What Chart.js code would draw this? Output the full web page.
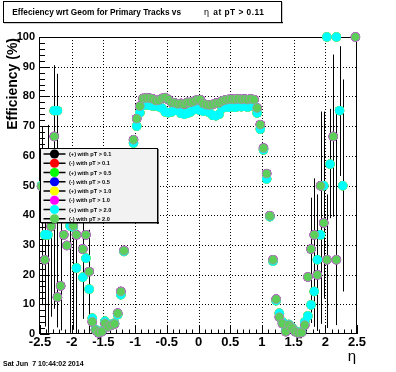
<!DOCTYPE html>
<html><head><meta charset="utf-8">
<script src="https://cdn.jsdelivr.net/npm/chart.js@4.4.1/dist/chart.umd.min.js"></script>
<style>html,body{margin:0;padding:0;background:#fff;}#wrap{position:relative;width:396px;height:372px;}</style>
</head><body><div id="wrap"><canvas id="c" width="396" height="372"></canvas></div>
<script>
const N = null;
// eta bin centres
const eta = [
-2.475,-2.425,-2.375,-2.325,-2.275,-2.225,-2.175,-2.125,-2.075,-2.025,
-1.975,-1.925,-1.875,-1.825,-1.775,-1.725,-1.675,-1.625,-1.575,-1.525,
-1.475,-1.425,-1.375,-1.325,-1.275,-1.225,-1.175,-1.125,-1.075,-1.025,
-0.975,-0.925,-0.875,-0.825,-0.775,-0.725,-0.675,-0.625,-0.575,-0.525,
-0.475,-0.425,-0.375,-0.325,-0.275,-0.225,-0.175,-0.125,-0.075,-0.025,
0.025,0.075,0.125,0.175,0.225,0.275,0.325,0.375,0.425,0.475,
0.525,0.575,0.625,0.675,0.725,0.775,0.825,0.875,0.925,0.975,
1.025,1.075,1.125,1.175,1.225,1.275,1.325,1.375,1.425,1.475,
1.525,1.575,1.625,1.675,1.725,1.775,1.825,1.875,1.925,1.975,
2.025,2.075,2.125,2.175,2.225,2.275,2.325,2.375,2.425,2.475];

// efficiency (%) for positive tracks
const effPlus = [
50,33.4,33.4,45,75.2,75.2,55,42,58,36.4,
36.0,22.2,50,19.1,25.5,15.1,5.3,1.5,0.6,1.0,
4.3,2.7,3.2,3.6,6.5,13.2,27.8,44,56,64.3,
70.0,74.5,77.0,77.2,77.0,76.8,76.8,76.5,76.0,74.8,
74.5,74.8,75.5,75.2,74.3,74.0,74.3,74.8,75.5,75.8,
75.3,75.0,75.2,74.5,73.6,73.5,74.0,76.0,76.5,76.3,
76.5,76.3,76.6,76.5,76.7,76.4,76.8,77.0,74.4,69.0,
62.0,52.2,39.5,24.5,11.2,7.0,4.0,1.2,3.2,2.2,
1.0,0.5,0.8,4.0,6.1,9.8,14.3,25.0,33.4,49.9,
100,57.2,N,100,75.2,49.9,N,N,N,N];

// efficiency (%) for negative tracks
const effMinus = [
49.7,25.0,52,36.2,66.5,12.4,16.2,33.4,29.8,48,
36.4,33.4,44,28.6,33.4,21.0,4.1,1.3,0.4,0.8,
3.6,2.5,3.0,3.4,7.0,14.3,28.1,45,58,65.4,
72.5,76.7,79.3,79.5,79.4,79.2,78.6,78.7,79.3,79.6,
78.9,78.0,77.8,77.5,77.6,77.4,78.0,78.0,78.3,78.8,
78.9,77.6,77.2,77.1,77.3,77.7,77.8,78.5,78.8,79.0,
79.1,79.0,79.2,79.0,79.1,78.9,79.2,78.9,76.1,70.5,
62.6,54.0,39.8,25.0,11.7,5.7,3.5,0.8,3.0,2.0,
0.8,0.3,0.5,3.0,19.2,28.6,33.4,19.9,49.9,37.4,
25.0,N,66.5,25.0,N,N,N,N,N,100];

// asymmetric errors (lower / upper)
const errLoPlus = [
N,N,33,N,N,73,N,N,N,36,
N,22,N,14,N,15,N,N,N,N,
N,N,N,N,N,N,N,N,N,N, N,N,N,N,N,N,N,N,N,N,
N,N,N,N,N,N,N,N,N,N, N,N,N,N,N,N,N,N,N,N,
N,N,N,N,N,N,N,N,N,N, N,N,N,N,N,N,N,N,N,N,
N,N,N,N,N,N,N,24,30,38,
N,18.2,N,N,22,35.6,N,N,N,N];
const errHiPlus = [
N,N,37,N,N,12.4,N,N,N,25,
N,30,N,30,N,20,N,N,N,N,
N,N,N,N,N,N,N,N,N,N, N,N,N,N,N,N,N,N,N,N,
N,N,N,N,N,N,N,N,N,N, N,N,N,N,N,N,N,N,N,N,
N,N,N,N,N,N,N,N,N,N, N,N,N,N,N,N,N,N,N,N,
N,N,N,N,N,N,N,22,25,25,
N,18.6,N,N,21.7,35.8,N,N,N,N];
const errLoMinus = [
40,22.5,N,30.4,58,N,15,N,N,N,
35,31,N,21,N,N,N,N,N,N,
N,N,N,N,N,N,N,N,N,N, N,N,N,N,N,N,N,N,N,N,
N,N,N,N,N,N,N,N,N,N, N,N,N,N,N,N,N,N,N,N,
N,N,N,N,N,N,N,N,N,N, N,N,N,N,N,N,N,N,N,N,
N,N,N,N,N,24.9,31,N,44,N,
23,N,27,22,N,N,N,N,N,N];
const errHiMinus = [
20,25,N,25,24,N,35,N,N,N,
25,25,N,30,N,N,N,N,N,N,
N,N,N,N,N,N,N,N,N,N, N,N,N,N,N,N,N,N,N,N,
N,N,N,N,N,N,N,N,N,N, N,N,N,N,N,N,N,N,N,N,
N,N,N,N,N,N,N,N,N,N, N,N,N,N,N,N,N,N,N,N,
N,N,N,N,N,17.3,19,N,25,N,
22,N,27.6,50,N,N,N,N,N,N];

const seriesLabels = ['(+) with pT > 0.1','(-) with pT > 0.1','(+) with pT > 0.5','(-) with pT > 0.5',
                      '(+) with pT > 1.0','(-) with pT > 1.0','(+) with pT > 2.0','(-) with pT > 2.0'];
const seriesColors = ['#000000','#ff0000','#00ff00','#0000ff','#ffff00','#ff00ff','#00ffff','#5ccf58'];
const seriesValues = [effPlus,effMinus,effPlus,effMinus,effPlus,effMinus,effPlus,effMinus];
const seriesErrLo = [N,N,N,N,N,N,errLoPlus,errLoMinus];
const seriesErrHi = [N,N,N,N,N,N,errHiPlus,errHiMinus];

const xTicks = [-2.5,-2,-1.5,-1,-0.5,0,0.5,1,1.5,2,2.5];
const xTickLabels = ['-2.5','-2','-1.5','-1','-0.5','0','0.5','1','1.5','2','2.5'];
const yTicks = [0,10,20,30,40,50,60,70,80,90,100];
const yTickLabels = ['0','10','20','30','40','50','60','70','80','90','100'];

const titleMain = 'Effeciency wrt Geom for Primary Tracks vs';
const titleEta = '\u03b7';
const titleTail = 'at pT > 0.11';
const yTitle = 'Efficiency (%)';
const xTitle = '\u03b7';
const dateText = 'Sat Jun  7 10:44:02 2014';

const FONT = 'Liberation Sans, Arial, sans-serif';

const framePlugin = {
  id: 'frame',
  beforeDatasetsDraw(chart) {
    const {ctx, chartArea: a, scales: {x, y}} = chart;
    ctx.save();
    ctx.strokeStyle = '#000'; ctx.lineWidth = 1; ctx.setLineDash([1, 2]);
    xTicks.forEach(v => {
      if (v <= x.min || v >= x.max) return;
      const px = Math.round(x.getPixelForValue(v)) + 0.5;
      ctx.beginPath(); ctx.moveTo(px, a.top); ctx.lineTo(px, a.bottom); ctx.stroke();
    });
    yTicks.forEach(v => {
      if (v <= y.min || v >= y.max) return;
      const py = Math.round(y.getPixelForValue(v)) + 0.5;
      ctx.beginPath(); ctx.moveTo(a.left, py); ctx.lineTo(a.right, py); ctx.stroke();
    });
    ctx.setLineDash([]);
    ctx.strokeRect(Math.round(a.left) - 0.5, Math.round(a.top) + 0.5, Math.round(a.right - a.left), Math.round(a.bottom - a.top) - 1);
    ctx.beginPath();
    for (let k = 0; k < xTicks.length; k++) {
      const v = xTicks[k];
      const px = Math.round(x.getPixelForValue(v)) + 0.5;
      ctx.moveTo(px, a.bottom); ctx.lineTo(px, a.bottom - 9);
      if (k < xTicks.length - 1) {
        const step = (xTicks[k + 1] - v) / 5;
        for (let j = 1; j < 5; j++) {
          const qx = Math.round(x.getPixelForValue(v + j * step)) + 0.5;
          ctx.moveTo(qx, a.bottom); ctx.lineTo(qx, a.bottom - 4.5);
        }
      }
    }
    for (let k = 0; k < yTicks.length; k++) {
      const v = yTicks[k];
      const py = Math.round(y.getPixelForValue(v)) + 0.5;
      ctx.moveTo(a.left, py); ctx.lineTo(a.left + 9.5, py);
      if (k < yTicks.length - 1) {
        const step = (yTicks[k + 1] - v) / 5;
        for (let j = 1; j < 5; j++) {
          const qy = Math.round(y.getPixelForValue(v + j * step)) + 0.5;
          ctx.moveTo(a.left, qy); ctx.lineTo(a.left + 5, qy);
        }
      }
    }
    ctx.stroke();
    ctx.restore();
  }
};

const errorBarPlugin = {
  id: 'errorBars',
  beforeDatasetsDraw(chart) {
    const {ctx, chartArea: a, scales: {x, y}} = chart;
    ctx.save();
    ctx.beginPath(); ctx.rect(a.left, a.top, a.right - a.left, a.bottom - a.top); ctx.clip();
    ctx.strokeStyle = '#000'; ctx.lineWidth = 1;
    seriesValues.forEach((vals, k) => {
      const lo = seriesErrLo[k], hi = seriesErrHi[k];
      if (!lo || !hi) return;
      vals.forEach((v, i) => {
        if (v === null || (lo[i] === null && hi[i] === null)) return;
        const px = Math.round(x.getPixelForValue(eta[i])) + 0.5;
        ctx.beginPath();
        ctx.moveTo(px, y.getPixelForValue(v - (lo[i] || 0)));
        ctx.lineTo(px, y.getPixelForValue(v + (hi[i] || 0)));
        ctx.stroke();
      });
    });
    ctx.restore();
  }
};

const legendPlugin = {
  id: 'rootLegend',
  afterDatasetsDraw(chart) {
    const ctx = chart.ctx;
    const L = 40, T = 148, W = 118, H = 75;
    ctx.save();
    ctx.fillStyle = '#f2f2f2'; ctx.fillRect(L, T, W, H);
    ctx.strokeStyle = '#000'; ctx.lineWidth = 1;
    ctx.strokeRect(L + 0.5, T + 0.5, W - 1, H - 1);
    ctx.fillStyle = '#000';
    ctx.fillRect(L + W - 1, T + 1, 1.5, H);
    ctx.fillRect(L + 1, T + H - 1, W, 1.5);
    chart.data.datasets.forEach((ds, k) => {
      const cy = T + 6 + k * 9.25;
      ctx.strokeStyle = '#000'; ctx.lineWidth = 1.5;
      ctx.beginPath(); ctx.moveTo(43.5, cy); ctx.lineTo(65.5, cy); ctx.stroke();
      ctx.fillStyle = ds.pointBackgroundColor;
      ctx.beginPath(); ctx.arc(54.5, cy, 4.6, 0, Math.PI * 2); ctx.fill();
      ctx.fillStyle = '#000';
      ctx.font = 'bold 5.6px ' + FONT;
      ctx.textBaseline = 'middle'; ctx.textAlign = 'left';
      ctx.fillText(ds.label, 69, cy + 0.5);
    });
    ctx.restore();
  }
};

const textPlugin = {
  id: 'rootText',
  afterDraw(chart) {
    const ctx = chart.ctx;
    ctx.save();
    ctx.fillStyle = '#fff'; ctx.fillRect(3, 1, 279, 22);
    ctx.strokeStyle = '#000'; ctx.lineWidth = 1;
    ctx.strokeRect(3.5, 1.5, 278, 21);
    ctx.fillStyle = '#000';
    ctx.fillRect(4, 22, 279, 1.2);
    ctx.fillRect(281, 2, 1.2, 21);
    ctx.textBaseline = 'middle'; ctx.textAlign = 'left';
    ctx.font = 'bold 8.3px ' + FONT;
    ctx.fillText(titleMain, 12.3, 12.8);
    ctx.font = '9px ' + FONT;
    ctx.fillText(titleEta, 204, 12.8);
    ctx.font = 'bold 8.3px ' + FONT;
    ctx.letterSpacing = '0.5px';
    ctx.fillText(titleTail, 213.3, 12.8);
    ctx.letterSpacing = '0px';
    ctx.font = 'bold 14px ' + FONT;
    ctx.save();
    ctx.translate(13, 38);
    ctx.rotate(-Math.PI / 2);
    ctx.textAlign = 'right'; ctx.textBaseline = 'middle';
    ctx.fillText(yTitle, 0, 0);
    ctx.restore();
    ctx.font = '15px ' + FONT;
    ctx.textAlign = 'right'; ctx.textBaseline = 'middle';
    ctx.fillText(xTitle, 356, 357);
    ctx.font = 'bold 7px ' + FONT;
    ctx.textAlign = 'left';
    ctx.fillText(dateText, 3, 364.5);
    ctx.restore();
  }
};

const datasets = seriesLabels.map((lab, k) => ({
  label: lab,
  data: eta.map((e, i) => ({x: e, y: seriesValues[k][i]})).filter(p => p.y !== null),
  pointBackgroundColor: seriesColors[k],
  pointBorderColor: k === 7 ? '#a096a8' : seriesColors[k],
  pointBorderWidth: k === 7 ? 0.8 : 0,
  pointRadius: k === 7 ? 4.4 : 4.7,
  pointHoverRadius: 4.7,
  showLine: false,
  order: 7 - k,
  clip: false
}));

new Chart(document.getElementById('c'), {
  type: 'scatter',
  data: {datasets},
  options: {
    responsive: false,
    animation: false,
    devicePixelRatio: 1,
    layout: {padding: {left: 0, top: 37, right: 39, bottom: 0}},
    plugins: {legend: {display: false}, tooltip: {enabled: false}, title: {display: false}},
    scales: {
      x: {
        type: 'linear', min: -2.5, max: 2.5,
        afterBuildTicks: s => { s.ticks = xTicks.map(v => ({value: v})); },
        afterFit: s => { s.height = 38; s.paddingLeft = 0; s.paddingRight = 0; },
        grid: {display: false, drawTicks: false},
        border: {display: false},
        ticks: {autoSkip: false, maxRotation: 0, minRotation: 0, padding: 1, color: '#000',
                font: {family: FONT, size: 13, weight: 'bold'},
                callback: (v, i) => xTickLabels[i]}
      },
      y: {
        type: 'linear', min: 0, max: 100,
        afterBuildTicks: s => { s.ticks = yTicks.map(v => ({value: v})); },
        afterFit: s => { s.width = 40; s.paddingTop = 0; s.paddingBottom = 0; },
        grid: {display: false, drawTicks: false},
        border: {display: false},
        ticks: {autoSkip: false, padding: 5, color: '#000',
                font: {family: FONT, size: 11, weight: 'bold'},
                callback: (v, i) => yTickLabels[i]}
      }
    }
  },
  plugins: [framePlugin, errorBarPlugin, legendPlugin, textPlugin]
});
</script>
</body></html>
